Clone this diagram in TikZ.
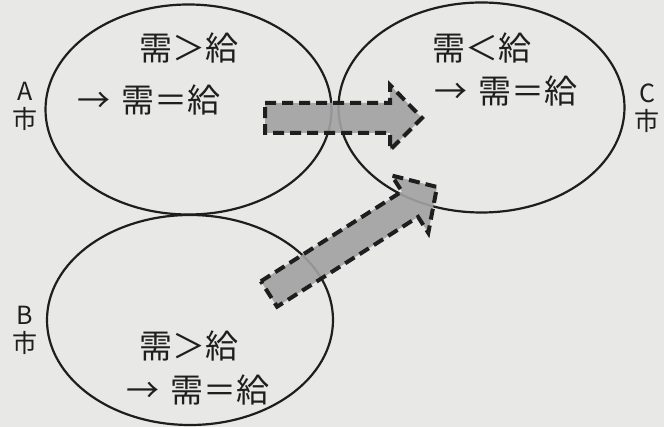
\documentclass[tikz,border=0pt]{standalone}
\usepackage{fontspec}
\setmainfont{Noto Sans CJK JP}
\usetikzlibrary{shapes.geometric}
\definecolor{bg}{HTML}{E8E8E6}
\definecolor{ink}{HTML}{1E1E1E}
\definecolor{arrowfill}{HTML}{A2A2A2}
\tikzset{
  city/.style={draw=ink, line width=2.2pt, ellipse, minimum width=286pt, minimum height=210pt, inner sep=0pt},
  rel/.style={text=ink, font=\fontsize{33}{34}\selectfont, inner sep=0pt, anchor=center},
  citylabel/.style={text=ink, font=\fontsize{25}{28}\selectfont, align=center, inner sep=0pt},
  flow/.style={fill=arrowfill, fill opacity=0.9, draw=ink, line width=4pt, dash pattern=on 11pt off 6pt, line join=miter}
}
\begin{document}
\begin{tikzpicture}[x=1pt,y=-1pt]
  \fill[bg] (0,0) rectangle (664,427);
  \useasboundingbox (0,0) rectangle (664,427);
  % ellipses
  \node[city] (A) at (188.5,109.5) {};
  \node[city] (C) at (481.5,107.5) {};
  \node[city] (B) at (190,320) {};
  % flows
  \draw[flow] (265,103) -- (390,103) -- (390,85) -- (422,118) -- (390,150) -- (390,133) -- (265,133) -- cycle;
  \draw[flow] (260.9,281.3) -- (401.9,191.5) -- (391.7,175.5) -- (437,187) -- (428.3,232.9) -- (418.1,216.9) -- (277.1,306.7) -- cycle;
  % texts
  \node[rel] (A1) at (189,48) {需＞給};
  \node[rel] (A2) at (149,100) {→\hspace{12pt}需＝給};
  \node[rel] (C1) at (482,48) {需＜給};
  \node[rel] (C2) at (506,91) {→\hspace{12pt}需＝給};
  \node[rel] (B1) at (189,346) {需＞給};
  \node[rel] (B2) at (198,390) {→\hspace{12pt}需＝給};
  % city labels
  \node[citylabel] (LA) at (25,106) {A\\市};
  \node[citylabel] (LB) at (25,330) {B\\市};
  \node[citylabel] (LC) at (647,108) {C\\市};
\end{tikzpicture}
\end{document}
